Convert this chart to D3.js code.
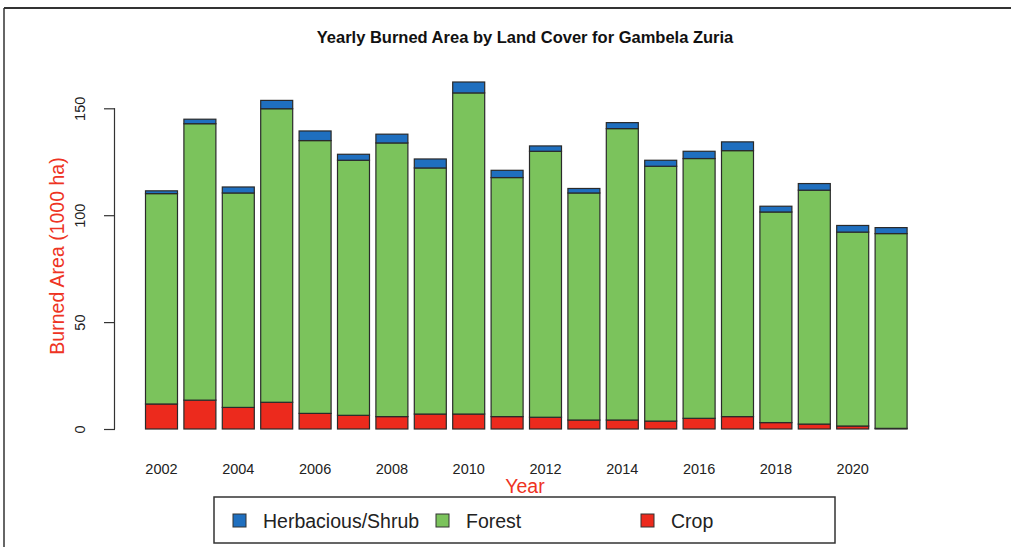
<!DOCTYPE html>
<html>
<head>
<meta charset="utf-8">
<script src="https://cdn.jsdelivr.net/npm/d3@7"></script>
<style>
  html, body { margin: 0; padding: 0; background: #fff; }
  svg { display: block; }
</style>
</head>
<body>
<svg id="chart" width="1011" height="547"></svg>
<script>
const years = [2002,2003,2004,2005,2006,2007,2008,2009,2010,2011,2012,2013,2014,2015,2016,2017,2018,2019,2020,2021];
const crop   = [11.7,13.5,10.1,12.5,7.3,6.4,5.8,7.0,7.0,5.8,5.5,4.2,4.2,3.7,5.0,5.8,3.0,2.3,1.4,0.3];
const forest = [98.4,129.3,100.3,137.3,127.6,119.3,128.0,115.1,150.2,111.8,124.4,106.2,136.3,119.2,121.5,124.4,98.5,109.4,90.7,91.1];
const herb   = [1.3,2.1,2.8,3.9,4.5,2.8,4.1,4.2,5.1,3.4,2.5,2.1,2.8,2.8,3.4,4.1,2.7,3.1,3.1,2.8];
const yTicks = [0,50,100,150];
const xTickYears = [2002,2004,2006,2008,2010,2012,2014,2016,2018,2020];
const seriesNames = ["Crop","Forest","Herbacious/Shrub"];
const seriesColors = ["#ec2a1d","#7bc35c","#1f6fbf"];
const legendOrder = ["Herbacious/Shrub","Forest","Crop"];

const svg = d3.select("#chart");
const FONT = "Liberation Sans, Arial, Helvetica, sans-serif";

// frame
svg.append("line").attr("x1",4).attr("x2",1011).attr("y1",8).attr("y2",8).attr("stroke","#333").attr("stroke-width",2);
svg.append("line").attr("x1",4).attr("x2",4).attr("y1",8).attr("y2",547).attr("stroke","#333").attr("stroke-width",1.5);

const x = d3.scaleBand().domain(years).range([142.3, 910.3]).paddingInner(0.1667).paddingOuter(0.0833);
const y = d3.scaleLinear().domain([0,150]).range([429,108.3]);

const table = years.map((yr,i)=>({year:yr, "Crop":crop[i], "Forest":forest[i], "Herbacious/Shrub":herb[i]}));
const stack = d3.stack().keys(seriesNames)(table);
const color = d3.scaleOrdinal().domain(seriesNames).range(seriesColors);

svg.append("g").selectAll("g").data(stack).join("g")
  .attr("fill", d=>color(d.key))
  .selectAll("rect").data(d=>d).join("rect")
  .attr("x", d=>x(d.data.year))
  .attr("width", x.bandwidth())
  .attr("y", d=>y(d[1]))
  .attr("height", d=>Math.max(0,y(d[0])-y(d[1])))
  .attr("stroke","#2a2a2a").attr("stroke-width",1.2);

// y axis
const yAxis = svg.append("g").attr("transform","translate(115,0)")
  .call(d3.axisLeft(y).tickValues(yTicks).tickSize(11).tickPadding(0).tickFormat(d3.format("d")));
yAxis.select(".domain").attr("stroke","#333").attr("stroke-width",1.2).attr("d","M-0.5,"+y(0)+"V"+y(150));
yAxis.selectAll(".tick line").attr("stroke","#333").attr("stroke-width",1.2);
yAxis.selectAll(".tick text").attr("font-family",FONT).attr("font-size",14.5).attr("fill","#222")
  .attr("transform","translate(-35,0) rotate(-90)").attr("text-anchor","middle").attr("dy","0.35em").attr("x",0);

// x labels
const xAxis = svg.append("g").attr("transform","translate(0,469)")
  .call(d3.axisBottom(x).tickValues(xTickYears).tickSize(0).tickPadding(0));
xAxis.select(".domain").remove();
xAxis.selectAll(".tick text").attr("font-family",FONT).attr("font-size",14.5).attr("fill","#222").attr("dy","0.35em");

// title
svg.append("text").attr("x",525).attr("y",43).attr("text-anchor","middle")
  .attr("font-family",FONT).attr("font-weight","bold").attr("font-size",16.5).attr("fill","#111")
  .text("Yearly Burned Area by Land Cover for Gambela Zuria");

// axis titles
svg.append("text").attr("transform","translate(64,256) rotate(-90)").attr("text-anchor","middle")
  .attr("font-family",FONT).attr("font-size",19.5).attr("fill","#ee3323").text("Burned Area (1000 ha)");
svg.append("text").attr("x",525).attr("y",493).attr("text-anchor","middle")
  .attr("font-family",FONT).attr("font-size",19.5).attr("fill","#ee3323").text("Year");

// legend
const lg = svg.append("g");
lg.append("rect").attr("x",214).attr("y",497).attr("width",621).attr("height",46)
  .attr("fill","#fff").attr("stroke","#333").attr("stroke-width",1.5);
const legendX = [233,436,641];
legendOrder.forEach((name,i)=>{
  lg.append("rect").attr("x",legendX[i]).attr("y",514).attr("width",13).attr("height",13)
    .attr("fill",color(name)).attr("stroke","#333").attr("stroke-width",1);
  lg.append("text").attr("x",legendX[i]+30).attr("y",521).attr("dy","0.35em")
    .attr("font-family",FONT).attr("font-size",19.5).attr("fill","#222").text(name);
});
</script>
</body>
</html>
